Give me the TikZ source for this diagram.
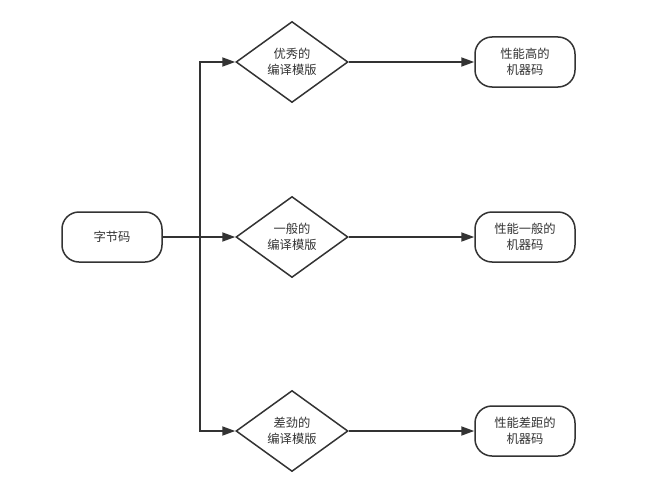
\documentclass[tikz,border=0pt]{standalone}
\usepackage{fontspec}
\newfontfamily\cjk{Noto Sans CJK SC}
\usetikzlibrary{shapes.geometric,arrows.meta}
\definecolor{ln}{HTML}{333333}
\begin{document}
\begin{tikzpicture}[x=1pt,y=-1pt,
  term/.style={draw=ln,line width=1.5pt,rounded corners=17pt,minimum width=100pt,minimum height=50pt,inner sep=0pt,align=center,font=\cjk\fontsize{12.3}{15.5}\selectfont,text=ln},
  dec/.style={draw=ln,line width=1.5pt,diamond,aspect=1.38,minimum width=112pt,minimum height=81pt,inner sep=0pt,align=center,font=\cjk\fontsize{12.3}{15.5}\selectfont,text=ln},
  conn/.style={draw=ln,line width=1.8pt,-{Triangle[length=13pt,width=9pt]}}]
\useasboundingbox (0,0) rectangle (652,487);
\node[term] (src) at (112,237) {字节码};
\node[dec] (d1) at (292,62) {优秀的\\编译模版};
\node[dec] (d2) at (292,237) {一般的\\编译模版};
\node[dec] (d3) at (292,431) {差劲的\\编译模版};
\node[term] (r1) at (525,62) {性能高的\\机器码};
\node[term] (r2) at (525,237) {性能一般的\\机器码};
\node[term] (r3) at (525,431) {性能差距的\\机器码};
\coordinate (j) at (200,237);
\draw[conn] (src.east) -- (d2.west);
\draw[conn] (src.east) -- (j) |- (d1.west);
\draw[conn] (src.east) -- (j) |- (d3.west);
\draw[conn] (d1.east) -- (r1.west);
\draw[conn] (d2.east) -- (r2.west);
\draw[conn] (d3.east) -- (r3.west);
\end{tikzpicture}
\end{document}
